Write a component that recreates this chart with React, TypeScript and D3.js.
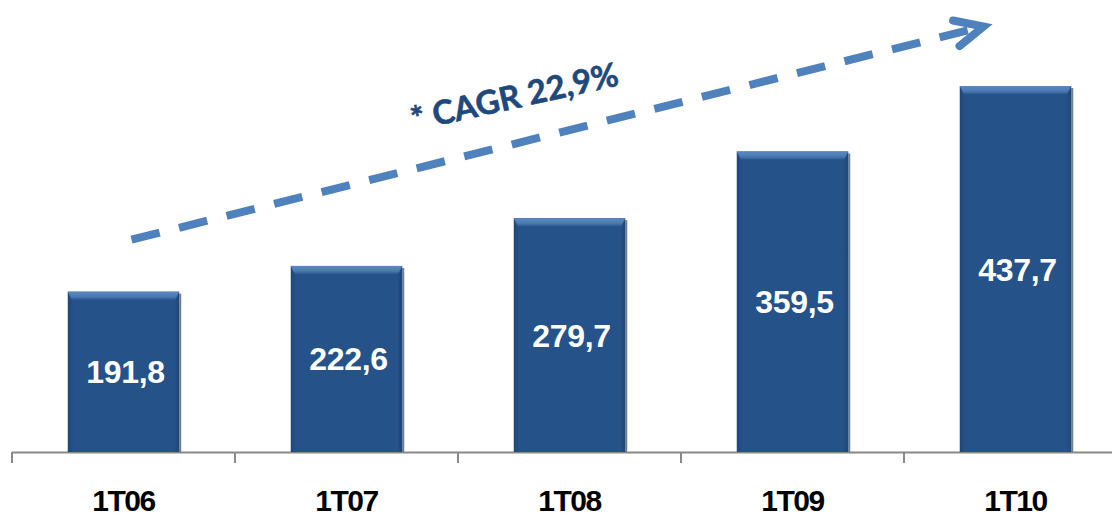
import React from "react";
import * as d3 from "d3";

const categories = ["1T06", "1T07", "1T08", "1T09", "1T10"];
const values = [191.8, 222.6, 279.7, 359.5, 437.7];
const valueLabels = ["191,8", "222,6", "279,7", "359,5", "437,7"];
const cagrLabel = "* CAGR 22,9%";
// trend arrow annotation in data terms: [category index, value]
const trendStart: [number, number] = [0, 254];
const trendEnd: [number, number] = [4, 509];

const W = 1112;
const H = 518;
const BASE = 452;

export default function App() {
  const x = d3
    .scaleBand<string>()
    .domain(categories)
    .range([12, 1127])
    .paddingInner(0.5)
    .paddingOuter(0.25);
  const y = d3.scaleLinear().domain([0, 500]).range([BASE, BASE - 418]);
  const bw = x.bandwidth();
  const step = x.step();

  const sx = (x(categories[trendStart[0]]) as number) + bw / 2 + 8;
  const sy = y(trendStart[1]);
  const ex = (x(categories[trendEnd[0]]) as number) + bw / 2 - 32;
  const ey = y(trendEnd[1]);
  const ang = Math.atan2(ey - sy, ex - sx);
  const back = ang + Math.PI;
  const armLen = 31;
  const armA = 0.44;
  const arm1: [number, number] = [ex + armLen * Math.cos(back + armA), ey + armLen * Math.sin(back + armA)];
  const arm2: [number, number] = [ex + armLen * Math.cos(back - armA), ey + armLen * Math.sin(back - armA)];
  const line = d3.line();
  const shaftEnd: [number, number] = [ex - 4 * Math.cos(ang), ey - 4 * Math.sin(ang)];

  const ticks = d3.range(categories.length + 1).map((i) => 12 + i * step);

  return (
    <svg
      width={W}
      height={H}
      style={{ position: "absolute", left: 0, top: 0, display: "block", background: "#fff" }}
    >
      <defs>
        <linearGradient id="barH" x1="0" x2="1" y1="0" y2="0">
          <stop offset="0" stopColor="#1f4677" />
          <stop offset="0.05" stopColor="#26528a" />
          <stop offset="0.95" stopColor="#26528a" />
          <stop offset="1" stopColor="#1f4677" />
        </linearGradient>
        <linearGradient id="barTop" x1="0" x2="0" y1="0" y2="1">
          <stop offset="0" stopColor="#5a88c2" />
          <stop offset="0.6" stopColor="#4c7ab4" />
          <stop offset="1" stopColor="#2d5b94" />
        </linearGradient>
      </defs>

      {/* axis */}
      <line x1={12} x2={W} y1={BASE + 0.5} y2={BASE + 0.5} stroke="#898989" strokeWidth={2} />
      {ticks.map((t, i) => (
        <line key={i} x1={t} x2={t} y1={BASE} y2={BASE + 11} stroke="#898989" strokeWidth={2} />
      ))}

      {/* bars */}
      {categories.map((c, i) => {
        const bx = x(c) as number;
        const by = y(values[i]);
        const h = BASE - by;
        return (
          <g key={c}>
            <rect x={bx + bw} y={by + 2} width={2} height={h - 2} fill="#6e7f94" />
            <rect x={bx} y={by} width={bw} height={h} fill="url(#barH)" />
            <path
              d={`M${bx},${by} L${bx + bw},${by} L${bx + bw - 4},${by + 8} L${bx + 4},${by + 8} Z`}
              fill="url(#barTop)"
            />
            <text
              x={bx + bw / 2 + 2}
              y={by + h / 2}
              dy="0.36em"
              textAnchor="middle"
              fill="#ffffff"
              fontFamily="'Liberation Sans', Arial, sans-serif"
              fontWeight="bold"
              fontSize={32}
              letterSpacing={-0.3}
            >
              {valueLabels[i]}
            </text>
            <text
              x={bx + bw / 2}
              y={511}
              textAnchor="middle"
              fill="#000000"
              fontFamily="'Liberation Sans', Arial, sans-serif"
              fontWeight="bold"
              fontSize={30}
              letterSpacing={-1.5}
            >
              {c}
            </text>
          </g>
        );
      })}

      {/* trend arrow */}
      <path
        d={line([[sx, sy], shaftEnd]) as string}
        stroke="#4f81bd"
        strokeWidth={8}
        strokeDasharray="29 20"
        fill="none"
      />
      <path
        d={line([arm1, [ex, ey], arm2]) as string}
        stroke="#4f81bd"
        strokeWidth={8}
        strokeLinecap="round"
        strokeLinejoin="miter"
        fill="none"
      />
      <text
        transform={`translate(517,108) rotate(-12.5)`}
        textAnchor="middle"
        fill="#1f497d"
        fontFamily="Lato, 'Open Sans', sans-serif"
        fontWeight="bold"
        fontSize={33}
        stroke="#1f497d"
        strokeWidth={0.6}
      >
        {cagrLabel}
      </text>
    </svg>
  );
}
